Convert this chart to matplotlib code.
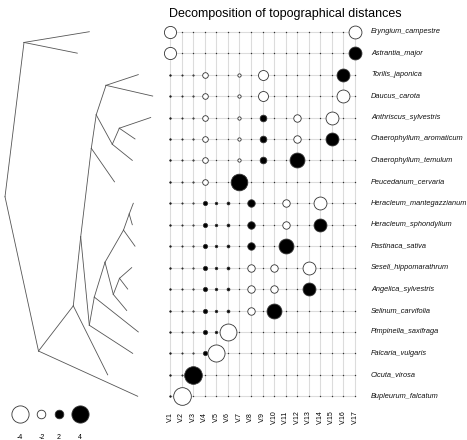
import matplotlib
matplotlib.use("Agg")
import matplotlib.pyplot as plt

plt.rcParams['font.family'] = ['Liberation Sans', 'DejaVu Sans']

# species, top to bottom (same order as the tree leaves)
species = ["Eryngium_campestre", "Astrantia_major", "Torilis_japonica", "Daucus_carota",
           "Anthriscus_sylvestris", "Chaerophyllum_aromaticum", "Chaerophyllum_temulum",
           "Peucedanum_cervaria", "Heracleum_mantegazzianum", "Heracleum_sphondylium",
           "Pastinaca_sativa", "Seseli_hippomarathrum", "Angelica_sylvestris",
           "Selinum_carvifolia", "Pimpinella_saxifraga", "Falcaria_vulgaris",
           "Cicuta_virosa", "Bupleurum_falcatum"]

col_labels = ["V.1", "V.2", "V.3", "V.4", "V.5", "V.6", "V.7", "V.8", "V.9",
              "V.10", "V.11", "V.12", "V.13", "V.14", "V.15", "V.16", "V.17"]

# one row per species, one value per column V.1 .. V.17
values = [
    [-2.83, 0, 0, 0, 0, 0, 0, 0, 0, 0, 0, 0, 0, 0, 0, 0, -3],
    [-2.83, 0, 0, 0, 0, 0, 0, 0, 0, 0, 0, 0, 0, 0, 0, 0, 3],
    [0.35, 0.27, -0.29, -1.31, 0, 0, -0.77, 0, -2.32, 0, 0, 0, 0, 0, 0, 3, 0],
    [0.35, 0.27, -0.29, -1.31, 0, 0, -0.77, 0, -2.32, 0, 0, 0, 0, 0, 0, -3, 0],
    [0.35, 0.27, -0.29, -1.31, 0, 0, -0.77, 0, 1.55, 0, 0, -1.73, 0, 0, -3, 0, 0],
    [0.35, 0.27, -0.29, -1.31, 0, 0, -0.77, 0, 1.55, 0, 0, -1.73, 0, 0, 3, 0, 0],
    [0.35, 0.27, -0.29, -1.31, 0, 0, -0.77, 0, 1.55, 0, 0, 3.46, 0, 0, 0, 0, 0],
    [0.35, 0.27, -0.29, -1.31, 0, 0, 3.87, 0, 0, 0, 0, 0, 0, 0, 0, 0, 0],
    [0.35, 0.27, -0.29, 0.98, 0.57, 0.65, 0, 1.73, 0, 0, -1.73, 0, 0, -3, 0, 0, 0],
    [0.35, 0.27, -0.29, 0.98, 0.57, 0.65, 0, 1.73, 0, 0, -1.73, 0, 0, 3, 0, 0, 0],
    [0.35, 0.27, -0.29, 0.98, 0.57, 0.65, 0, 1.73, 0, 0, 3.46, 0, 0, 0, 0, 0, 0],
    [0.35, 0.27, -0.29, 0.98, 0.57, 0.65, 0, -1.73, 0, -1.73, 0, 0, -3, 0, 0, 0, 0],
    [0.35, 0.27, -0.29, 0.98, 0.57, 0.65, 0, -1.73, 0, -1.73, 0, 0, 3, 0, 0, 0, 0],
    [0.35, 0.27, -0.29, 0.98, 0.57, 0.65, 0, -1.73, 0, 3.46, 0, 0, 0, 0, 0, 0, 0],
    [0.35, 0.27, -0.29, 0.98, 0.57, -3.93, 0, 0, 0, 0, 0, 0, 0, 0, 0, 0, 0],
    [0.35, 0.27, -0.29, 0.98, -3.97, 0, 0, 0, 0, 0, 0, 0, 0, 0, 0, 0, 0],
    [0.35, 0.27, 4.10, 0, 0, 0, 0, 0, 0, 0, 0, 0, 0, 0, 0, 0, 0],
    [0.35, -4.11, 0, 0, 0, 0, 0, 0, 0, 0, 0, 0, 0, 0, 0, 0, 0],
]

# tree: depth of each leaf, then internal nodes (name, child1, child2, depth)
leaf_depth = [89.3, 77.3, 138.3, 152.7, 150.7, 135.0, 132.3, 114.5, 133.3,
              132.3, 135.0, 131.7, 127.7, 126.7, 138.3, 132.7, 107.7, 137.7]
nodes = [
    ("A", 0, 1, 24.0),
    ("G", 2, 3, 106.0),
    ("I", 4, 5, 119.3),
    ("H", "I", 6, 112.3),
    ("F", "G", "H", 96.2),
    ("E", "F", 7, 91.3),
    ("N", 8, 9, 129.2),
    ("M", "N", 10, 123.5),
    ("P", 11, 12, 119.5),
    ("O", "P", 13, 113.3),
    ("L", "M", "O", 105.0),
    ("K", "L", 14, 94.3),
    ("J", "K", 15, 89.3),
    ("D", "E", "J", 80.7),
    ("C", "D", 16, 73.3),
    ("B", "C", 17, 38.5),
    ("root", "A", "B", 5.0),
]

legend_values = [-4, -2, 2, 4]

W, H = 467, 440
PX_PER_UNIT = 4.3   # circle diameter (px) per unit of value


def px_axes(fig, x0, y0, x1, y1):
    ax = fig.add_axes([x0 / W, 1 - y1 / H, (x1 - x0) / W, (y1 - y0) / H])
    ax.set_axis_off()
    return ax


def size_of(v):
    # scatter wants area in pt^2, figure is 100 dpi
    d = PX_PER_UNIT * abs(v) * 0.72
    return d * d


def draw_circles(ax, xs, ys, vals, lw=0.6):
    for x, y, v in zip(xs, ys, vals):
        if v == 0:
            continue
        face = 'black' if v > 0 else 'white'
        ax.scatter([x], [y], s=size_of(v), facecolor=face, edgecolor='#333333',
                   linewidth=lw, zorder=3, clip_on=False)


def main():
    fig = plt.figure(figsize=(W / 100, H / 100), dpi=100)
    nrow = len(species)
    ncol = len(col_labels)

    ### table of circles ###
    ax = px_axes(fig, 164.2, 21, 360.8, 407)
    ax.set_xlim(0.5, ncol + 0.5)
    ax.set_ylim(nrow + 0.5, 0.5)
    for j in range(1, ncol + 1):
        ax.plot([j, j], [1, nrow], color='#dcdcdc', lw=0.8, zorder=1)
    for i in range(1, nrow + 1):
        ax.plot([1, ncol], [i, i], color='#dcdcdc', lw=0.8, zorder=1)
    gx = [j for i in range(1, nrow + 1) for j in range(1, ncol + 1)]
    gy = [i for i in range(1, nrow + 1) for j in range(1, ncol + 1)]
    ax.scatter(gx, gy, s=1.0, color='#333333', linewidth=0, zorder=2)
    gv = [values[i - 1][j - 1] for i, j in zip(gy, gx)]
    draw_circles(ax, gx, gy, gv)

    for i, name in enumerate(species, start=1):
        ax.text(nrow + 0.37, i, name, style='italic', fontsize=5.3,
                ha='left', va='center', color='#111111', clip_on=False)
    for j, lab in enumerate(col_labels, start=1):
        ax.text(j, nrow + 0.97, lab, rotation=90, fontsize=5,
                ha='center', va='center', clip_on=False)

    ### tree ###
    tx = px_axes(fig, 0, 21, 160, 407)
    tx.set_xlim(0, 160)
    tx.set_ylim(nrow + 0.5, 0.5)
    pos = {k: (leaf_depth[k], k + 1) for k in range(nrow)}
    for name, c1, c2, depth in nodes:
        y = (pos[c1][1] + pos[c2][1]) / 2
        pos[name] = (depth, y)
        for c in (c1, c2):
            tx.plot([depth, pos[c][0]], [y, pos[c][1]], color='#555555', lw=0.6)

    ### legend ###
    lx = px_axes(fig, 0, 400, 100, 440)
    lx.set_xlim(0, 100)
    lx.set_ylim(440, 400)
    cur = 11.4
    gap = 8.5
    xs = []
    for v in legend_values:
        r = PX_PER_UNIT * abs(v) / 2
        xs.append(cur + r)
        cur = cur + 2 * r + gap
    draw_circles(lx, xs, [414] * len(xs), legend_values)
    for x, v in zip(xs, legend_values):
        lx.text(x, 437.5, str(v), fontsize=5, ha='center', va='center')

    fig.text(285 / W, 1 - 14 / H, "Decomposition of topographical distances",
             fontsize=9, ha='center', va='center')

    fig.savefig("out.png", dpi=100)


if __name__ == "__main__":
    main()
